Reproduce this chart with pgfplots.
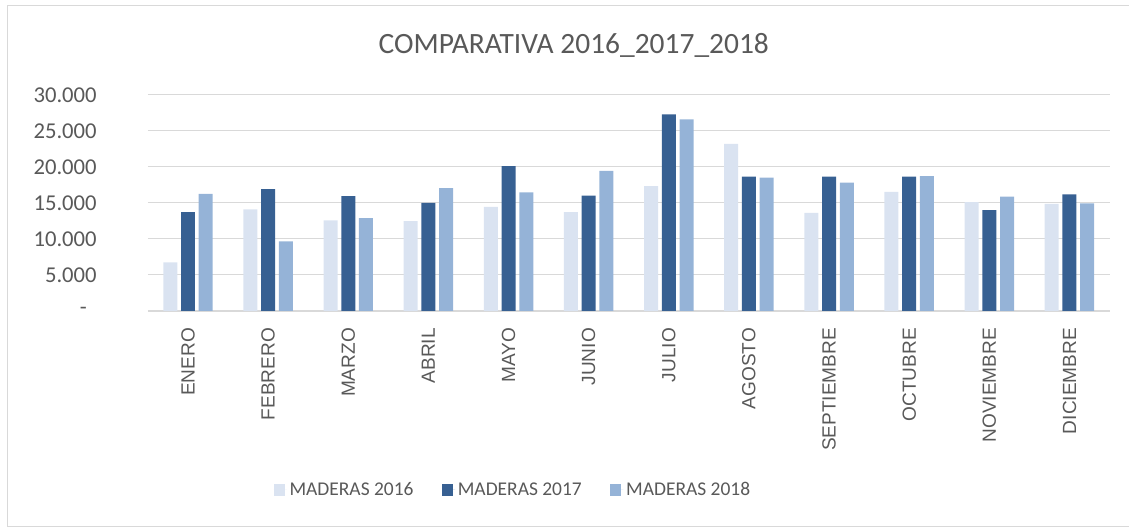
\documentclass[border=0pt]{standalone}
\usepackage{fontspec}
\setmainfont{Carlito}
\newfontfamily\arialf{Liberation Sans}
\usepackage{pgfplots}
\pgfplotsset{compat=1.18}
\definecolor{cA}{RGB}{218,227,241}
\definecolor{cB}{RGB}{55,96,146}
\definecolor{cC}{RGB}{149,179,215}
\definecolor{gridgray}{RGB}{217,217,217}
\definecolor{textgray}{RGB}{89,89,89}
\pgfplotsset{sqlegend/.style={legend image code/.code={\fill[##1] (0pt,-4.25pt) rectangle (8.25pt,4.25pt); \path (0pt,0pt) -- (9.75pt,0pt);}}}
\begin{document}
\begin{tikzpicture}[x=0.75pt,y=0.75pt]
\path (0,0) rectangle (1129,529);
\draw[gridgray, line width=0.75pt] (8,2) -- (8,523) -- (1129,523);
\draw[gridgray, line width=0.75pt] (8,2) -- (1129,2);
\node[font=\fontsize{22.1}{24}\selectfont, text=textgray] at (574,484) {COMPARATIVA 2016\_2017\_2018};
\begin{axis}[
  at={(111pt,163.5pt)}, anchor=south west, scale only axis,
  width=721.5pt, height=162pt,
  xmin=-0.5, xmax=11.5, ymin=0, ymax=30000,
  scaled y ticks=false,
  ybar, bar width=10.5pt,
  axis x line*=bottom, axis y line*=left,
  x axis line style={draw=gridgray, line width=1.1pt},
  y axis line style={draw=none},
  ymajorgrids, grid style={draw=gridgray, line width=0.75pt},
  major tick length=0pt,
  xtick={0,...,11},
  xticklabels={ENERO,FEBRERO,MARZO,ABRIL,MAYO,JUNIO,JULIO,AGOSTO,SEPTIEMBRE,OCTUBRE,NOVIEMBRE,DICIEMBRE},
  xticklabel style={font=\arialf\fontsize{14.3}{16}\selectfont, text=textgray, rotate=90, anchor=east, inner sep=0pt, xshift=-12.75pt},
  ytick={0,5000,10000,15000,20000,25000,30000},
  yticklabels={{-\hspace*{7.5pt}},5.000,10.000,15.000,20.000,25.000,30.000},
  yticklabel style={font=\fontsize{17}{19}\selectfont, text=textgray, anchor=east, inner sep=0pt, xshift=-38.25pt},
  legend columns=3,
  legend style={draw=none, at={(0.380,-0.829)}, anchor=center, font=\fontsize{14.6}{16}\selectfont, text=textgray,
    /tikz/every even column/.append style={column sep=19.5pt}},
  clip=false,
]
\addplot[fill=cA, draw=none, bar shift=-13.3pt, sqlegend] coordinates {
(0,6750) (1,14100) (2,12570) (3,12470) (4,14460) (5,13720) (6,17330) (7,23190) (8,13630) (9,16540) (10,15110) (11,14880)};
\addplot[fill=cB, draw=none, bar shift=0pt, sqlegend] coordinates {
(0,13720) (1,16910) (2,15940) (3,15020) (4,20100) (5,16030) (6,27300) (7,18670) (8,18670) (9,18670) (10,14000) (11,16170)};
\addplot[fill=cC, draw=none, bar shift=13.3pt, sqlegend] coordinates {
(0,16260) (1,9660) (2,12890) (3,17050) (4,16450) (5,19450) (6,26610) (7,18530) (8,17830) (9,18710) (10,15890) (11,14920)};
\legend{MADERAS 2016, MADERAS 2017, MADERAS 2018}
\end{axis}
\end{tikzpicture}
\end{document}
